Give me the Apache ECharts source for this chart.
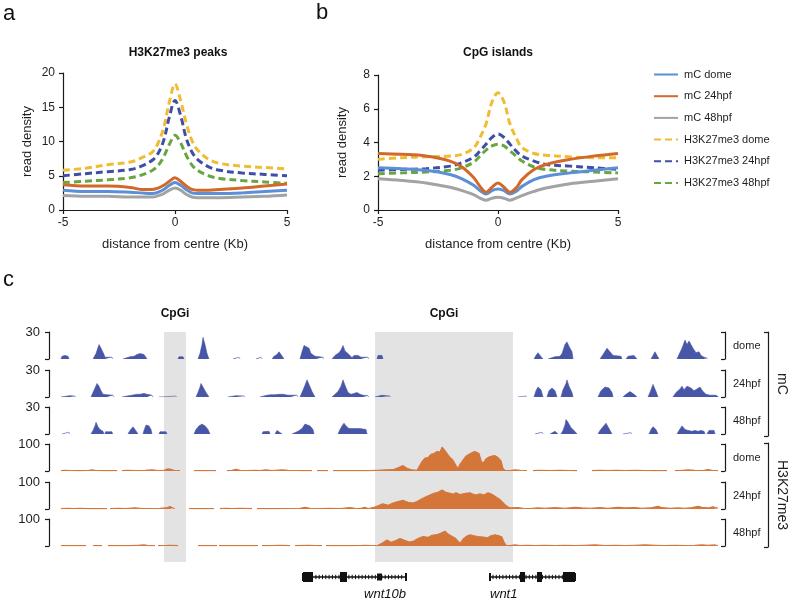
<!DOCTYPE html>
<html><head><meta charset="utf-8">
<script src="https://cdn.jsdelivr.net/npm/echarts@6/dist/echarts.min.js"></script>
<style>html,body{margin:0;padding:0;background:#fff}#c{width:790px;height:600px}</style>
</head><body><div id="c"></div>
<script>
// ---------------- DATA ----------------
const seriesNames = ['mC dome','mC 24hpf','mC 48hpf','H3K27me3 dome','H3K27me3 24hpf','H3K27me3 48hpf'];
const profileX = [-5,-4,-3,-2,-1.5,-1,-0.75,-0.5,-0.25,0,0.25,0.5,0.75,1,1.5,2,3,4,5];
// panel a: H3K27me3 peaks
const peaksMCdome   = [2.9,2.7,2.7,2.6,2.5,2.4,2.6,3.0,3.6,4.0,3.6,3.0,2.5,2.4,2.4,2.4,2.5,2.7,2.9];
const peaksMC24     = [3.7,3.5,3.5,3.3,3.0,3.0,3.2,3.6,4.2,4.7,4.2,3.5,3.0,2.9,2.9,3.0,3.2,3.5,3.8];
const peaksMC48     = [2.1,2.0,2.0,1.9,1.9,1.9,2.1,2.4,2.9,3.2,2.9,2.3,1.9,1.8,1.8,1.8,1.9,2.0,2.2];
const peaksK27dome  = [5.8,6.1,6.6,7.0,7.6,8.5,9.8,12.1,15.8,18.4,16.0,12.7,10.2,8.8,7.4,6.8,6.4,6.2,6.0];
const peaksK27_24   = [5.0,5.3,5.6,5.9,6.4,7.3,8.3,10.2,13.6,16.0,13.8,10.5,8.5,7.4,6.3,5.8,5.4,5.2,5.0];
const peaksK27_48   = [4.0,4.2,4.4,4.7,5.1,5.8,6.5,7.8,9.6,10.9,9.8,8.0,6.6,5.8,5.0,4.6,4.3,4.1,3.9];
// panel b: CpG islands
const cgiMCdome  = [2.5,2.45,2.35,2.1,1.85,1.45,1.15,0.95,1.15,1.25,1.15,0.95,1.1,1.4,1.8,2.0,2.2,2.35,2.5];
const cgiMC24    = [3.35,3.3,3.2,2.9,2.55,1.9,1.4,1.05,1.35,1.6,1.35,1.05,1.3,1.8,2.4,2.7,3.0,3.2,3.35];
const cgiMC48    = [1.85,1.75,1.6,1.35,1.15,0.9,0.7,0.58,0.7,0.75,0.7,0.58,0.7,0.85,1.1,1.3,1.55,1.7,1.85];
const cgiK27dome = [3.0,3.1,3.15,3.2,3.3,3.7,4.3,5.1,6.4,6.95,6.4,5.1,4.3,3.7,3.35,3.25,3.15,3.1,3.1];
const cgiK27_24  = [2.35,2.4,2.45,2.6,2.8,3.15,3.5,3.9,4.3,4.5,4.3,3.9,3.5,3.2,2.9,2.7,2.6,2.5,2.4];
const cgiK27_48  = [2.15,2.2,2.25,2.35,2.5,2.85,3.2,3.55,3.8,3.9,3.8,3.5,3.2,2.9,2.55,2.4,2.3,2.25,2.2];
const profileTicksA = [0,5,10,15,20];
const profileTicksB = [0,2,4,6,8];

// panel c: genome browser tracks (position in locus bins, signal value); each inner list is one covered segment
const trackMCdome = [
 [[1,0],[2,3],[5,4],[8,3],[9,0]],
 [[33,0],[36,6],[39,16],[41,12],[44,5],[45,2],[52,2],[52.5,0]],
 [[63,0],[64,2],[70,2.5],[74,3],[77,5],[80,6],[84,5],[87,0]],
 [[118,0],[119,2.5],[123,2.5],[124,0]],
 [[138,0],[140,6],[142,16],[143,24],[145,16],[147,6],[149,0]],
 [[173,0],[174,2],[179,2],[180,0]],
 [[196,0],[197,2],[201,2],[202,0]],
 [[212,0],[214,3],[217,5],[219,8],[221,5],[223,3],[224,0]],
 [[240,0],[242,8],[244,15],[246,17],[249,12],[251,6],[255,3],[256,2],[263,2],[263.5,0]],
 [[272,0],[275,4],[279,7],[281,10],[283,15],[285,9],[289,5],[292,1.5],[294,4],[298,4],[301,2],[308,2],[308.5,0]],
 [[317,0],[318,4],[322,4],[323,0]],
 [[474,0],[476,4],[478,7],[480,4],[483,0]],
 [[488,0],[489,2],[495,2.5],[500,3],[502,6],[505,16],[507,19],[509,14],[512,8],[513,0]],
 [[540,0],[543,5],[547,12],[550,8],[553,4],[554,3],[561,3],[562,0]],
 [[566,0],[568,3],[570,4],[574,4],[577,0]],
 [[591,0],[593,4],[595,8],[597,4],[599,0]],
 [[617,0],[619,5],[622,12],[625,21],[627,16],[629,20],[631,21],[633,12],[636,7],[639,8],[641,4],[644,2],[647,1],[647.5,0]]
];
const trackMC24 = [
 [[1,0],[2,1],[10,1.5],[15,1],[15.5,0]],
 [[31,0],[33,5],[35,10],[37,15],[39,12],[41,7],[43,3],[44,2],[47,2.5],[53,2],[54,0]],
 [[62,0],[63,1],[69,1.5],[72,2],[74,4],[77,3],[80,3],[84,4],[87,3],[92,2],[93,0]],
 [[99,0],[99.5,1],[116,1],[116.5,0]],
 [[136,0],[138,5],[140,11],[141,15],[143,11],[146,5],[149,0]],
 [[168,0],[169,1.2],[176,1.5],[184,1.2],[185,0]],
 [[200,0],[201,2],[207,2],[211,2.5],[215,2.5],[219,3],[221,5],[223,3],[225,2],[228,2],[231,2],[237,2],[238,0]],
 [[240,0],[242,5],[245,13],[247,19],[249,14],[252,6],[255,0]],
 [[272,0],[274,2],[278,6],[281,12],[283,19],[285,13],[288,5],[291,3],[294,4],[297,5],[300,3],[303,2],[308,1.5],[308.5,0]],
 [[315,0],[316,1],[322,2],[330,1],[330.5,0]],
 [[458,0],[458.5,1],[466,1],[466.5,0]],
 [[474,0],[476,7],[478,11],[481,8],[483,0]],
 [[487,0],[489,7],[492,10],[495,7],[497,0]],
 [[501,0],[503,8],[506,15],[507,19],[509,12],[512,5],[513,0]],
 [[538,0],[541,7],[545,11],[549,10],[552,5],[553,0]],
 [[563,0],[566,3],[570,6],[574,3],[577,0]],
 [[588,0],[590,5],[593,14],[596,6],[598,0]],
 [[613,0],[616,5],[620,9],[622,12],[624,8],[627,12],[629,14],[631,10],[634,7],[637,9],[640,11],[643,6],[646,3],[650,2],[656,2],[658,1],[658.5,0]]
];
const trackMC48 = [
 [[2,0],[2.5,2],[9,2],[9.5,0]],
 [[31,0],[33,4],[35,9],[36,13],[38,8],[40,5],[43,3],[44,0]],
 [[45,0],[45.5,2.5],[52,2.5],[52.5,0]],
 [[68,0],[70,4],[73,8],[75,5],[78,0]],
 [[83,0],[84,4],[86,10],[89,9],[91,5],[92,0]],
 [[99,0],[100,2.5],[106,2.5],[107,0]],
 [[134,0],[136,5],[139,9],[142,11],[145,9],[148,5],[150,0]],
 [[202,0],[203,2.5],[209,3],[210,0]],
 [[215,0],[217,4],[219,5],[222,0]],
 [[232,0],[233,2],[238,3],[242,6],[245,11],[247,12],[250,9],[253,5],[254,0]],
 [[278,0],[280,5],[282,9],[284,12],[286,9],[289,6],[293,6],[297,6],[300,6],[306,5],[307,0]],
 [[475,0],[476,2],[482,2],[483,0]],
 [[490,0],[491,2],[495,3],[497,3],[498,0]],
 [[501,0],[503,4],[505,10],[506,16],[508,13],[511,7],[514,4],[517,0]],
 [[538,0],[540,4],[543,8],[546,12],[549,6],[552,0]],
 [[563,0],[564,1.5],[571,1.5],[572,0]],
 [[589,0],[591,5],[593,8],[596,5],[598,0]],
 [[617,0],[619,4],[622,9],[625,5],[628,4],[632,3],[635,4],[638,3],[641,4],[644,3],[645,0]],
 [[647,0],[649,4],[651,6],[654,4],[655,0]]
];
const trackK27dome = [
 [[1,1.5],[5,3],[10,2],[20,1.5],[28,2],[32,4],[36,2],[45,1.5],[57,1.5]],
 [[62,1.5],[68,3],[75,2],[85,3],[92,4],[98,2],[104,3],[108,8],[111,6],[114,3],[120,2]],
 [[134,1.5],[145,1.5],[156,1.5]],
 [[167,1.5],[172,3],[176,6],[180,3],[188,2],[195,3],[200,2],[206,4],[212,2],[216,3],[222,4],[228,3],[236,2],[244,1.5],[252,1.5]],
 [[257,1.5],[268,1.5]],
 [[273,1.5],[280,2],[290,1.5],[300,2],[310,1.5],[318,3],[325,4],[333,5],[338,12],[343,20],[347,10],[352,4],[357,3],[359,10],[362,35],[365,48],[368,50],[371,62],[374,65],[377,72],[380,70],[382,88],[384,80],[387,65],[390,50],[393,40],[396,20],[398,8],[400,25],[403,40],[406,55],[409,62],[412,68],[415,72],[417,78],[419,65],[421,40],[423,28],[426,45],[429,52],[432,55],[435,57],[438,50],[441,38],[443,10],[445,2],[450,2],[455,4],[460,3],[467,2]],
 [[473,1.5],[480,3],[490,2],[500,3],[510,2],[517,1.5]],
 [[532,1.5],[540,3],[548,2],[556,3],[566,2],[575,3],[585,2],[595,1.5],[607,1.5]],
 [[615,1.5],[620,2],[628,4],[635,3],[643,2],[648,5],[652,3],[658,1.5]]
];
const trackK27_24 = [
 [[1,1.5],[8,3],[14,2],[20,3],[28,1.5],[38,2],[47,1.5]],
 [[50,1.5],[58,3],[66,2],[75,4],[82,2],[92,2],[100,3],[106,4],[110,9],[113,4],[115,2]],
 [[129,1.5],[141,1.5],[154,1.5]],
 [[160,1.5],[166,3],[172,2],[180,3],[192,1.5]],
 [[197,1.5],[205,2],[215,1.5],[225,2],[240,3],[245,6],[250,3],[260,2],[270,3],[280,2],[290,5],[295,3],[300,2],[305,6],[308,2],[313,5],[318,12],[323,19],[328,14],[333,22],[338,28],[343,32],[348,25],[353,22],[357,28],[362,38],[366,45],[370,52],[374,58],[378,62],[382,70],[386,62],[390,58],[393,55],[396,60],[400,54],[403,56],[406,58],[410,60],[413,55],[416,52],[420,56],[424,52],[428,60],[432,55],[436,45],[440,35],[444,20],[447,10],[450,4],[452,3],[458,5],[463,3],[470,2],[478,4],[485,3],[495,5],[505,3],[515,6],[522,4],[530,3],[540,5],[548,3],[558,6],[565,4],[575,5],[582,3],[590,4],[598,10],[602,5],[610,3],[618,4],[625,3],[632,5],[638,10],[642,6],[648,4],[653,8],[658,3]]
];
const trackK27_48 = [
 [[1,1.5],[13,1.5],[26,1.5]],
 [[33,1.5],[42,1.5]],
 [[48,1.5],[60,2],[70,1.5],[78,3],[84,4],[88,2],[95,1.5]],
 [[98,1.5],[105,2],[110,3],[118,1.5]],
 [[138,1.5],[157,1.5]],
 [[159,1.5],[170,2],[180,1.5],[188,2],[198,1.5]],
 [[202,1.5],[212,2],[220,3],[230,1.5]],
 [[235,1.5],[248,3],[255,2],[262,1.5]],
 [[266,1.5],[280,2],[290,1.5],[300,2],[305,3],[310,2],[318,3],[322,10],[327,22],[331,14],[336,20],[340,28],[344,22],[349,15],[353,17],[358,28],[363,35],[368,32],[372,40],[377,42],[381,48],[385,55],[388,45],[391,38],[395,30],[398,18],[400,10],[403,25],[406,35],[410,42],[414,38],[418,35],[423,33],[427,30],[431,38],[435,42],[439,38],[442,33],[444,15],[446,3],[450,1.5],[455,4],[460,2],[468,3],[475,2],[485,3],[495,2],[505,3],[515,2],[525,3],[535,4],[545,2],[555,3],[565,2],[575,3],[585,4],[595,3],[605,2],[615,3],[625,2],[635,3],[642,4],[648,3],[655,4],[658,2]]
];
const trackNames  = ['dome','24hpf','48hpf','dome','24hpf','48hpf'];
const trackMax    = [30,30,30,100,100,100];
const groupNames  = ['mC','H3K27me3'];
const locusMax = 658;
// CpG islands
const cpgStart = [104,315];
const cpgEnd   = [126,453];
const cpgLabel = ['CpGi','CpGi'];
// genes
const geneNames  = ['wnt10b','wnt1'];
const geneStart  = [243,430];
const geneEnd    = [346,515];
const geneStrand = ['-','+'];
const exonStart  = [243,280,317,460,477,503];
const exonEnd    = [253,287,322,465,482,515];
const exonThick  = [1,1,0.7,1,1,1];

// ---------------- STYLE / LAYOUT ----------------
const FONT = '"Liberation Sans", Arial, Helvetica, sans-serif';
const TXT = '#1e1e1e', AX = '#1a1a1a';
const lineColors = ['#5b8fd8','#d2692a','#a3a3a3','#f0bc32','#3f4fa6','#6aa63f'];
const lineDash = [null,null,null,[7,4],[7,4],[7,4]];
const trackColors = ['#4756a6','#4756a6','#4756a6','#d4763a','#d4763a','#d4763a'];
const trackTops = [332,370,407,444,482,519];
const TRACK_H = 27, TRACK_L = 60, TRACK_W = 658;

function flatten(segs){
  const out = [];
  segs.forEach((s,i)=>{ if(i>0) out.push([s[0][0]-0.25,'-']); s.forEach(p=>out.push(p)); });
  return out;
}

const G = (o) => Object.assign({outerBoundsMode:'none', containLabel:false}, o);
const grid = [
  G({left:63, top:73, width:224, height:137}),
  G({left:378, top:75, width:240, height:135})
];
const xAxis = [], yAxis = [], series = [];

function profX(gi){
  return {type:'value', gridIndex:gi, min:-5, max:5, interval:5,
    name:'distance from centre (Kb)', nameLocation:'middle', nameGap:28,
    nameTextStyle:{fontSize:13, color:TXT, fontFamily:FONT},
    axisLine:{onZero:false, lineStyle:{color:AX, width:1.2}},
    axisTick:{length:4, lineStyle:{color:AX, width:1.2}},
    axisLabel:{fontSize:12, color:TXT, fontFamily:FONT, margin:7},
    splitLine:{show:false}};
}
function profY(gi, ticks){
  return {type:'value', gridIndex:gi, min:ticks[0], max:ticks[ticks.length-1], interval:ticks[1]-ticks[0],
    name:'read density', nameLocation:'middle', nameGap:29,
    nameTextStyle:{fontSize:13, color:TXT, fontFamily:FONT},
    axisLine:{show:true, onZero:false, lineStyle:{color:AX, width:1.2}},
    axisTick:{show:true, length:4, lineStyle:{color:AX, width:1.2}},
    axisLabel:{fontSize:12, color:TXT, fontFamily:FONT, margin:8},
    splitLine:{show:false}};
}
xAxis.push(profX(0), profX(1));
yAxis.push(profY(0, profileTicksA), profY(1, profileTicksB));

const panelA = [peaksMCdome, peaksMC24, peaksMC48, peaksK27dome, peaksK27_24, peaksK27_48];
const panelB = [cgiMCdome, cgiMC24, cgiMC48, cgiK27dome, cgiK27_24, cgiK27_48];
[panelA, panelB].forEach((panel, gi)=>{
  panel.forEach((vals, k)=>{
    series.push({type:'line', name:seriesNames[k], xAxisIndex:gi, yAxisIndex:gi,
      data: profileX.map((x,j)=>[x, vals[j]]), symbol:'circle', showSymbol:false, smooth:0.35, z:5+(k<3?1:0),
      lineStyle:{color:lineColors[k], width:3, type: lineDash[k] || 'solid'},
      itemStyle:{color:lineColors[k]}, emphasis:{disabled:true}});
  });
});

// tracks
const trackData = [trackMCdome, trackMC24, trackMC48, trackK27dome, trackK27_24, trackK27_48];
trackData.forEach((segs, i)=>{
  const gi = grid.length;
  grid.push(G({left:TRACK_L, top:trackTops[i], width:TRACK_W, height:TRACK_H}));
  xAxis.push({type:'value', gridIndex:gi, min:0, max:locusMax, show:false});
  const ly = yAxis.length;
  yAxis.push({type:'value', gridIndex:gi, min:0, max:trackMax[i], interval:trackMax[i], position:'left', offset:11,
    axisLine:{show:true, onZero:false, lineStyle:{color:AX, width:1.2}},
    axisTick:{show:true, length:4, lineStyle:{color:AX, width:1.2}},
    axisLabel:{fontSize:13, color:TXT, fontFamily:FONT, margin:9, formatter:v=> v===trackMax[i] ? String(v) : ''},
    splitLine:{show:false}});
  yAxis.push({type:'value', gridIndex:gi, min:0, max:1, interval:1, position:'right', offset:7,
    name:trackNames[i], nameLocation:'middle', nameRotate:0, nameGap:8,
    nameTextStyle:{fontSize:11, color:TXT, fontFamily:FONT, align:'left', verticalAlign:'middle'},
    axisLine:{show:true, onZero:false, lineStyle:{color:AX, width:1.2}},
    axisTick:{show:true, inside:true, length:4, lineStyle:{color:AX, width:1.2}},
    axisLabel:{show:false}, splitLine:{show:false}});
  series.push({type:'line', xAxisIndex:gi, yAxisIndex:ly, data:flatten(segs), symbol:'none', z:3,
    connectNulls:false, lineStyle:{color:trackColors[i], width: i<3 ? 0.6 : 1.1},
    areaStyle:{color:trackColors[i], opacity:1}, silent:true, emphasis:{disabled:true}});
});

// CpG shading background
{
  const gi = grid.length;
  grid.push(G({left:TRACK_L, top:332, width:TRACK_W, height:230}));
  xAxis.push({type:'value', gridIndex:gi, min:0, max:locusMax, show:false});
  const yi = yAxis.length;
  yAxis.push({type:'value', gridIndex:gi, min:0, max:1, show:false});
  series.push({type:'custom', xAxisIndex:gi, yAxisIndex:yi, z:0, silent:true,
    data: cpgStart.map((s,i)=>[s, cpgEnd[i]]),
    encode:{x:[0,1]},
    renderItem:(params, api)=>{
      const p0 = api.coord([api.value(0), 1]);
      const p1 = api.coord([api.value(1), 0]);
      return {type:'group', children:[
        {type:'rect', shape:{x:p0[0], y:p0[1], width:p1[0]-p0[0], height:p1[1]-p0[1]}, style:{fill:'#e3e3e3'}},
        {type:'text', x:(p0[0]+p1[0])/2, y:p0[1]-18, style:{text:cpgLabel[params.dataIndex], fill:'#111',
          fontSize:12, fontWeight:'bold', fontFamily:FONT, align:'center', verticalAlign:'middle'}}
      ]};
    }});
}

// genes
{
  const gi = grid.length;
  grid.push(G({left:TRACK_L, top:567, width:TRACK_W, height:20}));
  xAxis.push({type:'value', gridIndex:gi, min:0, max:locusMax, show:false});
  const yi = yAxis.length;
  yAxis.push({type:'value', gridIndex:gi, min:0, max:1, show:false});
  series.push({type:'custom', xAxisIndex:gi, yAxisIndex:yi, z:3, silent:true,
    data: geneStart.map((s,i)=>[s, geneEnd[i]]), encode:{x:[0,1]},
    renderItem:(params, api)=>{
      const i = params.dataIndex;
      const a = api.coord([api.value(0), 0.5]), b = api.coord([api.value(1), 0.5]);
      const y = a[1];
      const ch = [{type:'line', shape:{x1:a[0], y1:y, x2:b[0], y2:y}, style:{stroke:'#111', lineWidth:1.6}}];
      for (let x = a[0]+3; x < b[0]-1.5; x += 3.3) {
        ch.push({type:'line', shape:{x1:x, y1:y-2.2, x2:x, y2:y+2.2}, style:{stroke:'#111', lineWidth:1}});
      }
      ch.push({type:'line', shape:{x1:a[0], y1:y-4, x2:a[0], y2:y+4}, style:{stroke:'#111', lineWidth:2}});
      ch.push({type:'line', shape:{x1:b[0], y1:y-4, x2:b[0], y2:y+4}, style:{stroke:'#111', lineWidth:2}});
      const minus = geneStrand[i] === '-';
      ch.push({type:'text', x: minus ? b[0] : a[0], y: y+17, style:{text:geneNames[i], fill:'#111',
        fontSize:13, fontStyle:'italic', fontFamily:FONT, align: minus ? 'right' : 'left', verticalAlign:'middle'}});
      return {type:'group', children:ch};
    }});
  series.push({type:'custom', xAxisIndex:gi, yAxisIndex:yi, z:4, silent:true,
    data: exonStart.map((s,i)=>[s, exonEnd[i]]), encode:{x:[0,1]},
    renderItem:(params, api)=>{
      const a = api.coord([api.value(0), 0.5]), b = api.coord([api.value(1), 0.5]);
      const h = 10 * exonThick[params.dataIndex];
      return {type:'rect', shape:{x:a[0], y:a[1]-h/2, width:b[0]-a[0], height:h}, style:{fill:'#111'}};
    }});
}

// group brackets (mC / H3K27me3): grid right edge is the bracket
[[332,104],[443,104]].forEach((g, k)=>{
  const gi = grid.length;
  grid.push(G({left:TRACK_L, top:g[0], width:TRACK_W + 50, height:g[1]}));
  xAxis.push({type:'value', gridIndex:gi, min:0, max:1, show:false});
  yAxis.push({type:'value', gridIndex:gi, min:0, max:1, interval:1, position:'right', offset:0,
    name:groupNames[k], nameLocation:'middle', nameRotate:-90, nameGap:7,
    nameTextStyle:{fontSize:14, color:TXT, fontFamily:FONT},
    axisLine:{show:true, onZero:false, lineStyle:{color:AX, width:1.2}},
    axisTick:{show:true, inside:true, length:4, lineStyle:{color:AX, width:1.2}},
    axisLabel:{show:false}, splitLine:{show:false}});
});

const txt = (t, x, y, size, weight, align) => ({type:'text', x, y, silent:true,
  style:{text:t, fill:'#111', fontSize:size, fontWeight:weight||'normal', fontFamily:FONT, align:align||'left', verticalAlign:'middle'}});

const option = {
  backgroundColor:'#ffffff',
  animation:false,
  textStyle:{fontFamily:FONT},
  grid, xAxis, yAxis, series,
  legend:{data:seriesNames, orient:'vertical', left:648, top:64, itemWidth:24, itemHeight:12, itemGap:10.7,
    selectedMode:false,
    itemStyle:{color:'rgba(0,0,0,0)', borderColor:'rgba(0,0,0,0)', borderWidth:0},
    textStyle:{fontSize:11, color:TXT, fontFamily:FONT, padding:[0,0,0,1]}},
  graphic:[
    txt('a', 3, 13.5, 22),
    txt('b', 316, 12.5, 22),
    txt('c', 3, 279.5, 22),
    txt('H3K27me3 peaks', 178, 52.5, 12, 'bold', 'center'),
    txt('CpG islands', 498, 52.5, 12, 'bold', 'center')
  ]
};
const chart = echarts.init(document.getElementById('c'));
chart.setOption(option);
</script></body></html>
